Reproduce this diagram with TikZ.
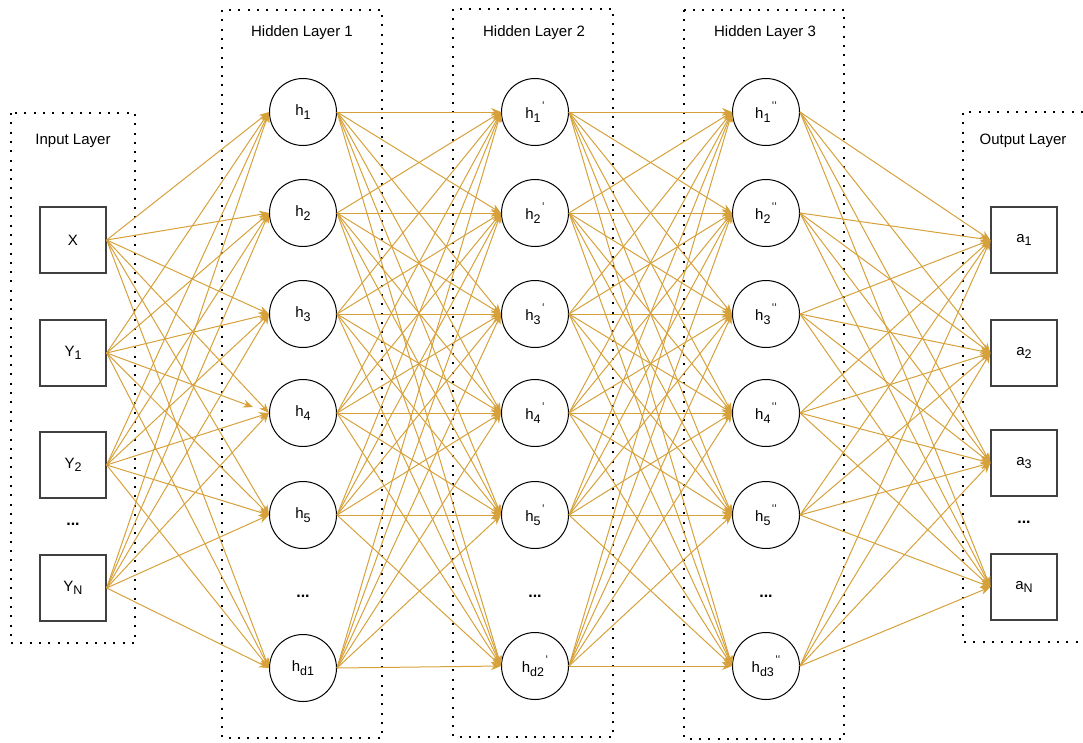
\documentclass[tikz,border=0pt]{standalone}
\usepackage{fontspec}
\setmainfont{Liberation Sans}
\usetikzlibrary{arrows.meta}
\definecolor{linkc}{HTML}{D6A13B}
\newcommand{\lsub}[1]{\raisebox{-0.45ex}{\fontsize{12.5}{13}\selectfont #1}}
\newcommand{\lmark}[1]{\kern1.5pt\raisebox{1.1ex}{\fontsize{11.5}{12}\selectfont #1}}

\begin{document}
\begin{tikzpicture}[x=1pt, y=-1pt,
  font=\fontsize{15}{17}\selectfont,
  layerbox/.style={line width=2pt, dash pattern=on 2pt off 7.3pt},
  unitbox/.style={draw=black!75, line width=1.3pt, minimum size=66pt, inner sep=0pt},
  neuron/.style={circle, draw, line width=1pt, minimum size=67pt, inner sep=0pt},
  link/.style={draw=linkc, line width=1pt, -{Stealth[length=10pt, width=8pt]}},
  title/.style={inner sep=0pt},
  gap/.style={font=\fontsize{16}{17}\selectfont\bfseries}
]
  \useasboundingbox (0,0) rectangle (1083,742);

  % dotted layer frames
  \draw[layerbox] (11,113) rectangle (135,643);
  \draw[layerbox] (222,10) rectangle (382,738);
  \draw[layerbox] (453,9) rectangle (613,737);
  \draw[layerbox] (684,10) rectangle (844,739);
  \draw[layerbox] (1083,112) -- (963,112) -- (963,642) -- (1083,642);

  \node[title] (intitle)  at (73,141)   {Input Layer};
  \node[title] (hatitle)  at (302,33)   {Hidden Layer 1};
  \node[title] (hbtitle)  at (534,33)   {Hidden Layer 2};
  \node[title] (hctitle)  at (765,33)   {Hidden Layer 3};
  \node[title] (outtitle) at (1023,141) {Output Layer};

  % input and output units
  \node[unitbox] (in1) at (73,240) {X};
  \node[unitbox] (in2) at (73,353) {Y\lsub{1}};
  \node[unitbox] (in3) at (73,465) {Y\lsub{2}};
  \node[gap] (indots) at (73,524) {...};
  \node[unitbox] (in4) at (73,588) {Y\lsub{N}};

  \node[unitbox] (out1) at (1024,240) {a\lsub{1}};
  \node[unitbox] (out2) at (1024,353) {a\lsub{2}};
  \node[unitbox] (out3) at (1024,463) {a\lsub{3}};
  \node[gap] (outdots) at (1024,522) {...};
  \node[unitbox] (out4) at (1024,587) {a\lsub{N}};

  % hidden units
  \foreach \i/\y in {1/112,2/213,3/314,4/413,5/515} {
    \node[neuron] (ha\i) at (303,\y) {h\lsub{\i}};
    \node[neuron] (hb\i) at (535,\y) {h\lsub{\i}\lmark{‘}};
    \node[neuron] (hc\i) at (766,\y) {h\lsub{\i}\lmark{‘‘}};
  }
  \node[gap] (hadots) at (303,596) {...};
  \node[gap] (hbdots) at (535,596) {...};
  \node[gap] (hcdots) at (766,596) {...};
  \node[neuron] (ha6) at (303,668) {h\lsub{d1}};
  \node[neuron] (hb6) at (535,666) {h\lsub{d2}\lmark{‘}};
  \node[neuron] (hc6) at (766,666) {h\lsub{d3}\lmark{‘‘}};

  % connections
  \foreach \s in {1,...,4}
    \foreach \t in {1,...,6} {
      \ifnum\s\t=24
        \draw[link, shorten >=17pt] (in\s.east) -- (ha\t.west);
      \else
        \draw[link] (in\s.east) -- (ha\t.west);
      \fi
    }
  \foreach \s in {1,...,6}
    \foreach \t in {1,...,6} {
      \draw[link] (ha\s.east) -- (hb\t.west);
      \draw[link] (hb\s.east) -- (hc\t.west);
    }
  \foreach \s in {1,...,6}
    \foreach \t in {1,...,4}
      \draw[link] (hc\s.east) -- (out\t.west);
\end{tikzpicture}
\end{document}
